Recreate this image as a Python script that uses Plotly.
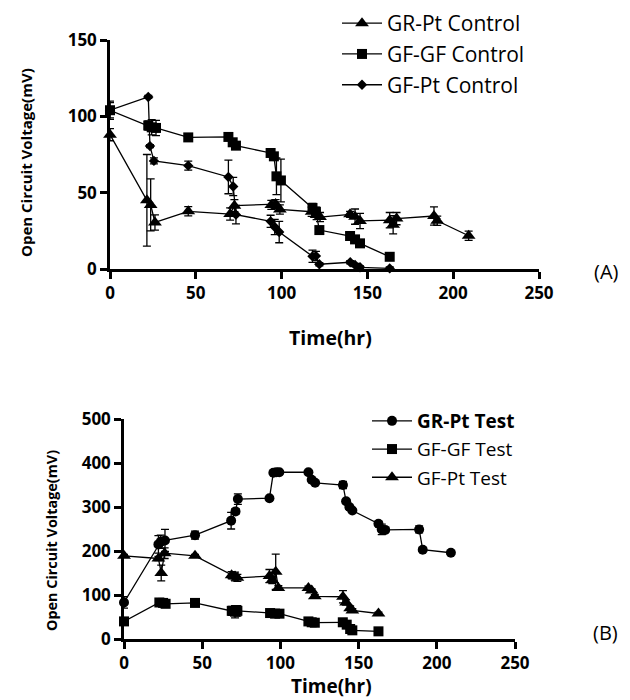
import plotly.graph_objects as go

# ---------------- Panel A (controls) ----------------
gr_pt_ctrl_t = [0, 21.5, 23.7, 26.2, 45.6, 70, 72.5, 94, 96.5, 99, 117.5, 120.4, 122.4,
                139.9, 142.8, 145.7, 163, 165, 167, 188.8, 190.7, 209]
gr_pt_ctrl_v = [88, 45, 42, 30.5, 37.8, 36, 41.5, 42, 42.5, 39, 37.5, 35.4, 34,
                35.8, 34.3, 31.5, 32, 29, 33, 34.7, 31.6, 21.8]
gr_pt_ctrl_e = [4, 30, 17, 5, 3, 4, 4, 3, 3, 3, 3, 3, 3, 2, 5, 5, 5, 6, 4, 6, 3, 3]

gf_gf_ctrl_t = [0, 22.3, 24.3, 26.8, 45.6, 69, 71.5, 73.4, 93.6, 95.5, 97, 99.6, 118, 120,
                122, 139.9, 142.8, 145.7, 163]
gf_gf_ctrl_v = [104, 94, 92.8, 92.4, 86.2, 86.5, 83, 80.8, 76, 73.8, 60.7, 58, 40, 37.5,
                25.5, 21.6, 19.4, 16.8, 8]
gf_gf_ctrl_e = [5, 3, 5, 5, 1, 2, 2, 1, 2, 2, 12, 14, 3, 3, 2, 2, 2, 2, 1]

gf_pt_ctrl_t = [0, 22.3, 23.3, 25.6, 45.6, 69, 71.8, 73.4, 93.6, 96, 98.6, 118, 120, 122,
                140, 142.8, 145.7, 163]
gf_pt_ctrl_v = [104, 112.7, 80.5, 70.8, 67.7, 60.3, 54, 35.6, 31.2, 27.5, 24.2, 8.3, 8.5, 3.1,
                4.4, 2.6, 1.1, 0.4]
gf_pt_ctrl_e = [6, 1, 1, 2, 3, 11, 6, 6, 4, 5, 7, 4, 3, 1, 1, 1, 1, 1]

# ---------------- Panel B (tests) ----------------
gr_pt_test_t = [0, 22, 23.5, 26.2, 45.4, 68.5, 71.3, 72.8, 93, 95.5, 97.4, 99.3, 117.9, 120,
                122.2, 140, 142, 144.1, 146, 162.7, 164.8, 167, 188.7, 191, 209]
gr_pt_test_v = [83, 215, 221, 224, 236, 269, 290, 318, 320, 378, 379, 379, 379, 362,
                355, 350, 313, 300, 292, 262, 249, 248, 249, 203, 196]
gr_pt_test_e = [13, 20, 15, 25, 9, 19, 6, 12, 3, 3, 3, 3, 3, 3, 3, 8, 4, 4, 4, 5, 12, 5, 8, 4, 3]

gf_gf_test_t = [0, 22.6, 25, 26.6, 45.4, 68.9, 71, 72.5, 93.4, 96.6, 99.4, 117.9, 120, 122,
                139.9, 142.4, 144.6, 146, 162.7]
gf_gf_test_v = [40, 83, 82, 80, 82, 64, 62, 64, 59, 57.6, 57.6, 40, 38, 37,
                38, 32.6, 22.7, 19.7, 17.4]
gf_gf_test_e = [2, 2, 2, 2, 2, 10, 14, 12, 3, 3, 2, 3, 3, 2, 3, 3, 2, 2, 2]

gf_pt_test_t = [0, 22, 23.8, 26, 45.4, 68.8, 71, 72.5, 93, 94.8, 97, 98.7, 117.9, 120,
                122, 140, 142, 144.6, 146, 162.7]
gf_pt_test_v = [189, 183, 150, 195, 189, 145, 142, 139, 143, 134, 153, 116, 116, 110,
                97, 96, 83, 70, 65, 58]
gf_pt_test_e = [3, 5, 18, 12, 3, 8, 10, 8, 15, 8, 40, 5, 4, 4, 4, 14, 6, 5, 4, 3]

x_ticks = [0, 50, 100, 150, 200, 250]
yA_ticks = [0, 50, 100, 150]
yB_ticks = [0, 100, 200, 300, 400, 500]

W, H = 630, 700
FONT = "Open Sans"


def px_x(p):
    return p / W


def px_y(p):
    return 1 - p / H


fig = go.Figure()


def add(t, v, e, name, symbol, size, xa, ya, legend, group):
    fig.add_trace(go.Scatter(
        x=t, y=v, name=name, mode="lines+markers",
        xaxis=xa, yaxis=ya, legend=legend, legendgroup=group,
        line=dict(color="black", width=1.3),
        marker=dict(symbol=symbol, size=size, color="black"),
        error_y=dict(type="data", array=e, visible=True, color="black",
                     thickness=1.3, width=4),
        cliponaxis=False,
    ))


add(gr_pt_ctrl_t, gr_pt_ctrl_v, gr_pt_ctrl_e, "GR-Pt Control", "triangle-up", 12, "x", "y", "legend", "a1")
add(gf_gf_ctrl_t, gf_gf_ctrl_v, gf_gf_ctrl_e, "GF-GF Control", "square", 10, "x", "y", "legend", "a2")
add(gf_pt_ctrl_t, gf_pt_ctrl_v, gf_pt_ctrl_e, "GF-Pt Control", "diamond", 8, "x", "y", "legend", "a3")

add(gr_pt_test_t, gr_pt_test_v, gr_pt_test_e, "<b>GR-Pt Test</b>", "circle", 10, "x2", "y2", "legend2", "b1")
add(gf_gf_test_t, gf_gf_test_v, gf_gf_test_e, "GF-GF Test", "square", 10, "x2", "y2", "legend2", "b2")
add(gf_pt_test_t, gf_pt_test_v, gf_pt_test_e, "GF-Pt Test", "triangle-up", 12, "x2", "y2", "legend2", "b3")

axis_common = dict(
    showline=True, linecolor="black", linewidth=2.5,
    ticks="outside", ticklen=7, tickwidth=2.5, tickcolor="black",
    showgrid=False, zeroline=False, automargin=False,
    tickfont=dict(family=FONT, size=17, color="black", weight="bold"),
)

fig.update_layout(
    width=W, height=H,
    margin=dict(l=0, r=0, t=0, b=0, pad=0, autoexpand=False),
    paper_bgcolor="white", plot_bgcolor="white",
    xaxis=dict(domain=[px_x(110), px_x(539)], range=[0, 250], tickvals=x_ticks,
               anchor="y", **axis_common),
    yaxis=dict(domain=[px_y(269), px_y(40)], range=[0, 150], tickvals=yA_ticks,
               anchor="x", **axis_common),
    xaxis2=dict(domain=[px_x(124), px_x(515)], range=[0, 250], tickvals=x_ticks,
                anchor="y2", **axis_common),
    yaxis2=dict(domain=[px_y(639), px_y(419)], range=[0, 500], tickvals=yB_ticks,
                anchor="x2", **axis_common),
    legend=dict(x=px_x(337), y=px_y(3), xanchor="left", yanchor="top",
                font=dict(family=FONT, size=21, color="black"),
                bgcolor="rgba(0,0,0,0)", itemwidth=40, tracegroupgap=0.5,
                itemclick=False),
    legend2=dict(x=px_x(367), y=px_y(402), xanchor="left", yanchor="top",
                 font=dict(family=FONT, size=19, color="black"),
                 bgcolor="rgba(0,0,0,0)", itemwidth=40, tracegroupgap=0.5,
                 itemclick=False),
    showlegend=True,
)

ann_font_b = dict(family=FONT, color="black", weight="bold")
fig.add_annotation(text="Open Circuit Voltage(mV)", textangle=-90, showarrow=False,
                   x=px_x(26), y=px_y(163), xref="paper", yref="paper",
                   xanchor="center", yanchor="middle", font=dict(ann_font_b, size=15))
fig.add_annotation(text="Open Circuit Voltage(mV)", textangle=-90, showarrow=False,
                   x=px_x(51), y=px_y(541), xref="paper", yref="paper",
                   xanchor="center", yanchor="middle", font=dict(ann_font_b, size=14.4))
fig.add_annotation(text="Time(hr)", showarrow=False,
                   x=px_x(330), y=px_y(337), xref="paper", yref="paper",
                   xanchor="center", yanchor="middle", font=dict(ann_font_b, size=19.5))
fig.add_annotation(text="Time(hr)", showarrow=False,
                   x=px_x(331), y=px_y(686), xref="paper", yref="paper",
                   xanchor="center", yanchor="middle", font=dict(ann_font_b, size=19))
fig.add_annotation(text="(A)", showarrow=False,
                   x=px_x(606), y=px_y(271), xref="paper", yref="paper",
                   xanchor="center", yanchor="middle",
                   font=dict(family=FONT, size=20, color="black"))
fig.add_annotation(text="(B)", showarrow=False,
                   x=px_x(605), y=px_y(632), xref="paper", yref="paper",
                   xanchor="center", yanchor="middle",
                   font=dict(family=FONT, size=20, color="black"))

fig.write_html("out.html")
